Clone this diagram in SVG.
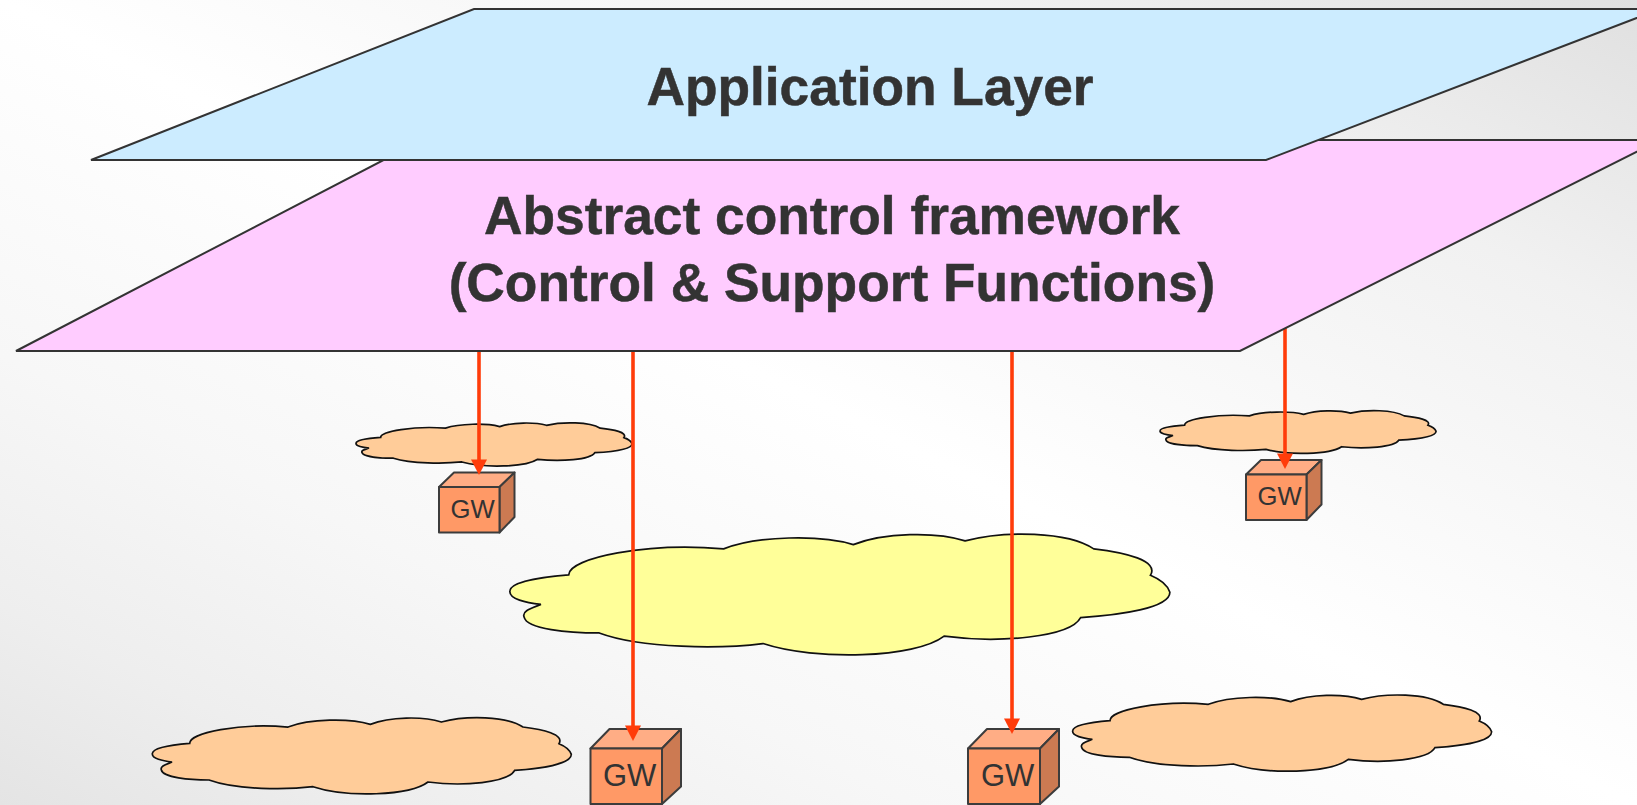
<svg xmlns="http://www.w3.org/2000/svg" width="1637" height="805" viewBox="0 0 1637 805">
<style>
.cloud{stroke:#111;stroke-width:1.7;vector-effect:non-scaling-stroke}
.orange{fill:#ffcc99}
.yellow{fill:#ffff99}
.plane{stroke:#333;stroke-width:2}
.title{font:bold 53.3px "Liberation Sans",Arial,sans-serif;fill:#333;stroke:#333;stroke-width:.5;text-anchor:middle}
.gw{font-family:"Liberation Sans",Arial,sans-serif;fill:#333}
.f{fill:#ff9966;stroke:#3c3c3c;stroke-width:2;stroke-linejoin:round}
.t{fill:#ffad85;stroke:#3c3c3c;stroke-width:2;stroke-linejoin:round}
.s{fill:#cc7a52;stroke:#3c3c3c;stroke-width:2;stroke-linejoin:round}
.arrow{stroke:#ff3c0a;stroke-width:3.6;fill:none;marker-end:url(#head)}
</style>
<defs>
<linearGradient id="bg" x1="0" y1="1" x2="1" y2="0">
<stop offset="0" stop-color="#e4e4e4"/><stop offset="0.124" stop-color="#eeeeee"/><stop offset="0.28" stop-color="#f7f7f7"/><stop offset="0.5" stop-color="#ffffff"/><stop offset="0.8" stop-color="#f1f1f1"/><stop offset="1" stop-color="#e0e0e0"/>
</linearGradient>
<marker id="head" markerUnits="userSpaceOnUse" markerWidth="17" markerHeight="17" refX="8" refY="8.500" orient="auto">
<path d="M0.500 0.500L16 8.500L0.500 16.500Z" fill="#ff3c0a"/>
</marker>
<path id="cl" class="cloud" d="M150 182C150 150 300 120 445 133C510 108 630 106 692 125C750 102 850 100 905 118C980 98 1100 100 1150 133C1210 140 1275 155 1258 183C1275 190 1290 200 1295 215C1295 245 1200 258 1125 263C1105 300 970 312 865 298C810 340 620 345 520 312C440 322 290 322 208 292C150 292 70 285 65 262C60 250 80 245 97 238C70 235 35 228 38 212C40 195 100 186 150 182Z"/>
</defs>
<rect width="1637" height="805" fill="url(#bg)"/>
<g id="cloud-small-left"><use href="#cl" class="orange" transform="translate(347.7 403) scale(.2196 .189)"/></g>
<g id="cloud-small-right"><use href="#cl" class="orange" transform="translate(1151.7 391) scale(.2196 .187)"/></g>
<g id="cloud-core"><use href="#cl" class="yellow" transform="translate(490 478.5) scale(.525 .529)"/></g>
<g id="cloud-bottom-left"><use href="#cl" class="orange" transform="translate(139.7 682.7) scale(.3333)"/></g>
<g id="cloud-bottom-right"><use href="#cl" class="orange" transform="translate(1060 660) scale(.3333)"/></g>
<g id="gw-1">
<path class="t" d="M439 487L454 472.5H514.5L499.5 487Z"/><path class="s" d="M499.5 487L514.5 472.5V517L499.5 532.5Z"/><rect class="f" x="439" y="487" width="60.5" height="45.5"/>
<text class="gw" x="450.5" y="517.5" font-size="25.7">GW</text></g>
<g id="gw-2">
<path class="t" d="M1246 474.500L1261 460H1321.500L1306.500 474.500Z"/><path class="s" d="M1306.500 474.500L1321.500 460V504.500L1306.500 520Z"/><rect class="f" x="1246" y="474.500" width="60.500" height="45.500"/>
<text class="gw" x="1257.500" y="505" font-size="25.7">GW</text></g>
<g id="gw-3">
<path class="t" d="M590.500 748.500L609.500 729H681L662 748.500Z"/><path class="s" d="M662 748.500L681 729V786.500L662 804Z"/><rect class="f" x="590.500" y="748.500" width="71.500" height="55.500"/>
<text class="gw" x="603" y="786" font-size="31">GW</text></g>
<g id="gw-4">
<path class="t" d="M968 748.500L987 729H1059L1040 748.500Z"/><path class="s" d="M1040 748.500L1059 729V786.500L1040 804Z"/><rect class="f" x="968" y="748.500" width="72" height="55.500"/>
<text class="gw" x="981" y="786" font-size="31">GW</text></g>
<g id="connectors">
<path class="arrow" d="M479 345V467"/>
<path class="arrow" d="M633 345V733"/>
<path class="arrow" d="M1012 345V726"/>
<path class="arrow" d="M1285 320V461"/>
</g>
<g id="control-layer">
<path class="plane" fill="#ffccff" d="M16 351L422 140H1660L1240 351Z"/>
<text class="title" x="832" y="234">Abstract control framework</text>
<text class="title" x="832" y="301">(Control &amp; Support Functions)</text>
</g>
<g id="application-layer">
<path class="plane" fill="#ccecff" d="M91 160L474 9H1660L1266 160Z"/>
<text class="title" x="870" y="105">Application Layer</text>
</g>
</svg>
